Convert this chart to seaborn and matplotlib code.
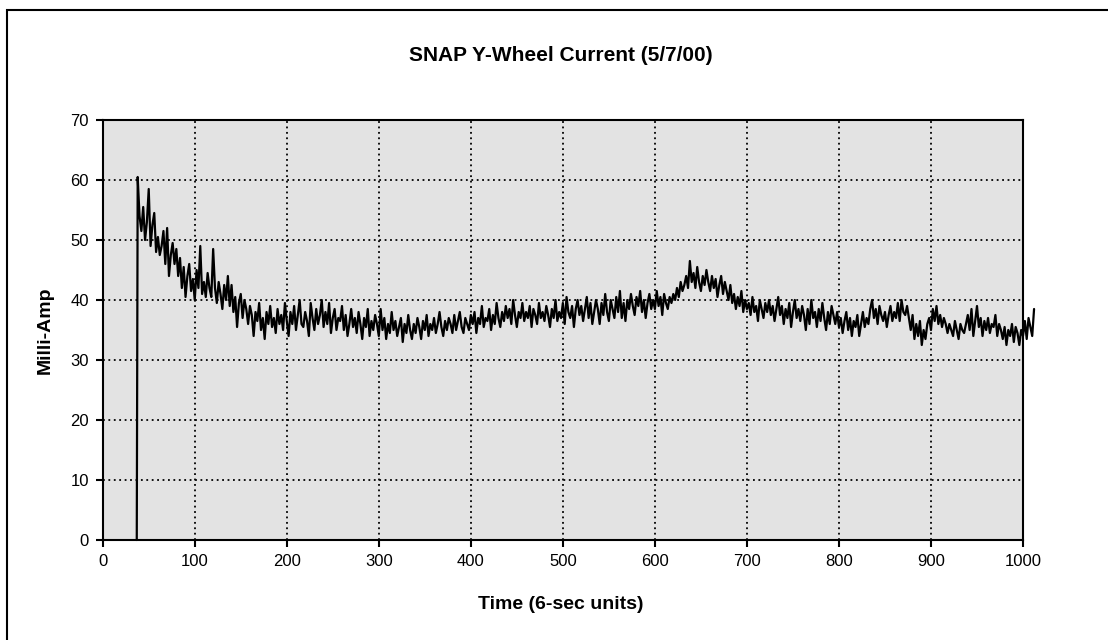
import numpy as np
import matplotlib
matplotlib.use("Agg")
import matplotlib.pyplot as plt
from matplotlib.patches import Rectangle
import seaborn as sns

# readings, one every 2 time units from 38 to 1012 (first sample at 37 is the 0 start)
current = [
    0,
    60.5, 54, 51.5, 55.5, 50, 53, 58.5, 49, 52.5, 54.5,
    48, 50.5, 47.5, 49, 51.5, 46, 52, 44, 47.5, 49.5,
    46, 48.5, 44, 47, 42, 45.5, 40.5, 44, 46, 41.5,
    43.5, 40, 45, 42, 49, 41, 43, 40.5, 44.5, 42,
    40.5, 48.5, 42, 39.5, 43, 41, 38.5, 42.5, 40, 44,
    39, 42.5, 38, 40.5, 35.5, 39.5, 41, 37, 40, 38.5,
    36, 39, 37.5, 34, 38, 36.5, 39.5, 35, 37, 33.5,
    38, 36, 39, 35.5, 37, 34.5, 38.5, 36, 37.5, 35,
    39.5, 36.5, 34, 38, 36, 39, 35, 37.5, 40, 36,
    35.5, 38, 36.5, 34, 39.5, 37, 35, 38.5, 36, 37.5,
    40, 35.5, 38, 36, 39.5, 34.5, 37, 38.5, 35, 37,
    36.5, 39, 35, 37.5, 34, 36, 38.5, 35.5, 37, 34.5,
    38, 36, 33.5, 37, 35.5, 38.5, 34, 36.5, 35, 37.5,
    36, 34, 38.5, 35, 37, 33.5, 36, 34.5, 38, 35,
    36.5, 34, 35.5, 37, 33, 36, 34.5, 37.5, 35, 33.5,
    36, 34.5, 37, 35.5, 33.5, 36.5, 35, 37.5, 34, 36,
    35, 37, 34.5, 36, 38, 35.5, 34, 36.5, 35, 37,
    36, 34.5, 37.5, 35, 36.5, 38, 35.5, 34.5, 37, 36,
    35, 37.5, 36, 38, 34.5, 37, 36, 39, 35.5, 37,
    36.5, 38.5, 35, 37.5, 36, 39.5, 37, 35.5, 38, 36.5,
    39, 37, 38.5, 36, 40, 37.5, 35.5, 38, 37, 39.5,
    36.5, 38, 37, 39, 35.5, 38.5, 37.5, 36, 39.5, 37,
    38, 36.5, 39, 37.5, 35.5, 38.5, 37, 40, 36.5, 38,
    37, 39.5, 36, 40.5, 38, 37, 39, 35.5, 38.5, 40,
    37.5, 39, 36.5, 38.5, 40.5, 37, 39.5, 36, 38, 40,
    38.5, 36, 39.5, 37.5, 41, 38, 36.5, 40, 38.5, 37,
    40.5, 38, 41.5, 37, 39.5, 36.5, 40, 38.5, 41, 39,
    37.5, 40.5, 39, 41.5, 38, 40, 37, 39.5, 41, 38.5,
    40, 38.5, 41.5, 39, 40.5, 37.5, 41, 39.5, 38.5, 40.5,
    39.5, 41, 40, 42, 40.5, 43, 41.5, 42.5, 44, 42,
    46.5, 43, 44.5, 42, 45.5, 43, 41.5, 44, 42.5, 45,
    43, 41.5, 44, 42, 43.5, 40.5, 42.5, 44, 41, 43,
    41.5, 40, 42.5, 39.5, 41, 38.5, 40.5, 39, 41.5, 38,
    40, 38.5, 39.5, 37.5, 40.5, 38, 39, 36.5, 40, 38.5,
    37, 39.5, 38, 40, 37.5, 39, 36.5, 38.5, 40.5, 37.5,
    39, 36, 38.5, 37, 39.5, 35.5, 38, 40, 37, 38.5,
    36.5, 39, 37.5, 35, 38.5, 36, 40, 37, 38, 35.5,
    38.5, 36.5, 39.5, 37, 35, 38, 36, 39, 37.5, 36,
    38, 35.5, 37, 34.5, 36.5, 38, 35, 37, 34, 36.5,
    35.5, 37.5, 34, 36, 38, 35.5, 37, 36, 38.5, 40,
    37, 38.5, 36, 39, 37.5, 36.5, 38, 35.5, 37.5, 39,
    36.5, 38, 37, 39.5, 36.5, 40, 38, 37.5, 39, 37,
    35, 37.5, 33.5, 36, 34, 36.5, 32.5, 35, 33.5, 36,
    37, 35, 38.5, 36.5, 39, 36, 37.5, 35.5, 37, 36,
    34.5, 36, 35, 34, 36.5, 35, 33.5, 36, 35, 34.5,
    36, 37.5, 35, 38.5, 34, 36.5, 39, 35.5, 37, 34,
    36.5, 35, 37, 34.5, 36, 35.5, 37.5, 34, 36, 35,
    33.5, 35.5, 32.5, 35, 34, 36, 33, 35.5, 34.5, 32.5,
    35, 34, 36.5, 33.5, 37, 35.5, 34, 38.5,
]
time = [37] + list(range(38, 1013, 2))

x_ticks = list(range(0, 1001, 100))
y_ticks = list(range(0, 71, 10))

sns.set_theme(style="white")
plt.rcParams['font.family'] = ['Liberation Sans', 'DejaVu Sans']
plt.rcParams['text.color'] = 'black'

fig = plt.figure(figsize=(11.08, 6.4), dpi=100)
ax = fig.add_axes([0.0927, 0.15625, 0.8306, 0.65625])
ax.set_facecolor('#E3E3E3')

sns.lineplot(x=time, y=current, ax=ax, color='black', linewidth=1.6,
             estimator=None, clip_on=False)

ax.set_xlim(0, 1000)
ax.set_ylim(0, 70)
ax.set_xticks(x_ticks)
ax.set_yticks(y_ticks)
ax.tick_params(axis='both', direction='out', length=5, width=1.5,
               colors='black', labelsize=12, pad=5,
               bottom=True, left=True)
ax.grid(True, color='black', linestyle=(0, (1, 2)), linewidth=1.3)
ax.set_axisbelow(True)
for side in ['left', 'right', 'top', 'bottom']:
    ax.spines[side].set_visible(True)
    ax.spines[side].set_color('black')
    ax.spines[side].set_linewidth(1.5)
ax.set_xlabel('')
ax.set_ylabel('')

fig.text(0.506, 0.914, 'SNAP Y-Wheel Current (5/7/00)', ha='center', va='center',
         fontsize=15, fontweight='bold', color='black')
fig.text(0.506, 0.056, 'Time (6-sec units)', ha='center', va='center',
         fontsize=14, fontweight='bold', color='black')
fig.text(0.041, 0.484, 'Milli-Amp', ha='center', va='center', rotation=90,
         fontsize=14, fontweight='bold', color='black')

# chart border (top and left edges visible in the picture)
fig.add_artist(Rectangle((7 / 1108, -0.01), 1.1, 1 - 10 / 640 + 0.01,
                         transform=fig.transFigure, fill=False,
                         edgecolor='black', linewidth=1.5))

fig.savefig('out.png', dpi=100)
